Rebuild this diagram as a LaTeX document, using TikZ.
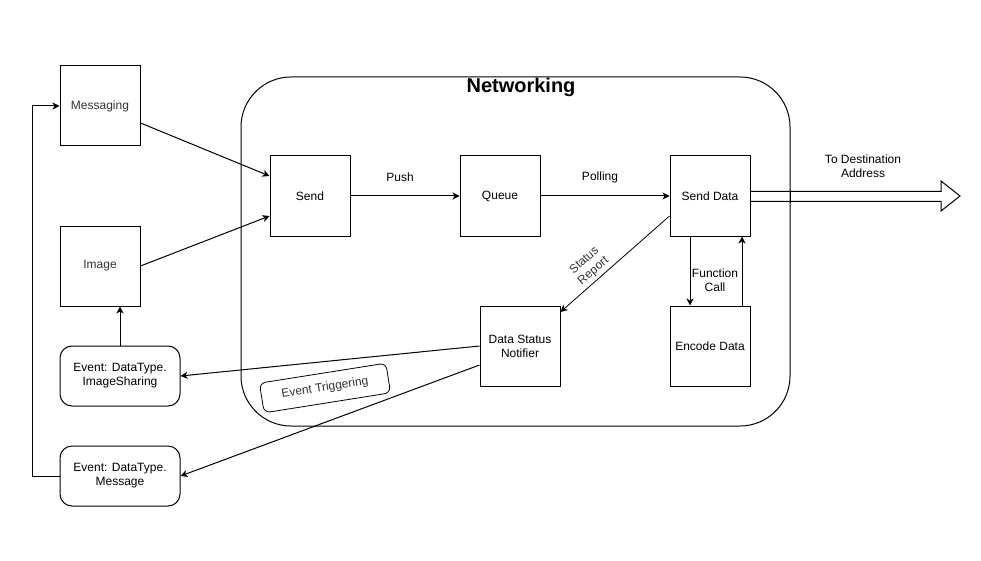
\documentclass[tikz,border=0pt]{standalone}
\usepackage{fontspec}
\setmainfont{Liberation Sans}
\usetikzlibrary{arrows.meta}
\definecolor{txtgray}{HTML}{333333}
\tikzset{
  box/.style={draw, line width=1pt, minimum width=80pt, minimum height=80pt, inner sep=0pt, align=center, font=\fontsize{12}{14}\selectfont},
  evbox/.style={draw, line width=1pt, rounded corners=12pt, minimum width=120pt, minimum height=60pt, inner sep=0pt, align=center, font=\fontsize{12}{14}\selectfont},
  lbl/.style={align=center, font=\fontsize{12}{14}\selectfont, inner sep=0pt},
  conn/.style={line width=1pt, -{Stealth[length=7pt,width=7pt,inset=2pt]}},
  plain/.style={line width=1pt}
}
\begin{document}
\begin{tikzpicture}[x=1pt,y=-1pt]
\useasboundingbox (0,0) rectangle (981,561);
\fill[white] (0,0) rectangle (981,561);
% container
\draw[line width=1pt, rounded corners=50pt] (241,77) rectangle (790,426);
\node[font=\bfseries\fontsize{20}{24}\selectfont, inner sep=0pt] (title) at (521,87) {Networking};
% nodes
\node[box, text=txtgray] (msg) at (100,106) {Messaging};
\node[box, text=txtgray] (img) at (100,266) {Image};
\node[box] (send) at (310,196) {Send};
\node[box] (queue) at (500,196) {Queue};
\node[box] (sdata) at (710,196) {Send Data};
\node[box] (notif) at (520,346) {Data Status\\Notifier};
\node[box] (enc) at (710,346) {Encode Data};
\node[evbox] (evimg) at (120,376) {Event: DataType.\\ImageSharing};
\node[evbox] (evmsg) at (120,476) {Event: DataType.\\Message};
\node[draw, line width=0.8pt, rounded corners=6pt, minimum width=128pt, minimum height=30pt, rotate=9, text=txtgray, font=\fontsize{12}{14}\selectfont] (trig) at (325,388) {Event Triggering};
% connectors
\draw[conn] (msg.east |- 0,123) -- (send.west |- 0,176);
\draw[conn] (img.east) -- (send.west |- 0,216);
\draw[conn] (evimg.north) -- (evimg.north |- img.south);
\draw[conn] (evmsg.west) -- (32,476) -- (32,106) -- (msg.west);
\draw[conn] (send.east) -- (queue.west);
\draw[conn] (queue.east) -- (sdata.west);
\draw[conn, line width=0.8pt] (sdata.west |- 0,216) -- (notif.east |- 0,312);
\draw[conn] (sdata.south -| 690,0) -- (enc.north -| 690,0);
\draw[conn] (enc.north -| 742,0) -- (sdata.south -| 742,0);
\draw[conn] (notif.west) -- (evimg.east);
\draw[conn] (notif.west |- 0,365) -- (evmsg.east |- 0,476);
% labels
\node[lbl] (push) at (400,177) {Push};
\node[lbl] (poll) at (600,177) {Polling};
\node[lbl, rotate=41, text=txtgray] (stat) at (589,266) {Status\\Report};
\node[lbl] (fcall) at (715,280) {Function\\Call};
\node[lbl] (dest) at (863,166) {To Destination\\Address};
% big arrow
\draw[line width=1pt] (sdata.east |- 0,191.5) -- (941,191.5) -- (941,181) -- (960,196) coordinate (tip) -- (941,211) -- (941,201.5) -- (sdata.east |- 0,201.5);
\draw[line width=1pt] (790,190) -- (790,203);
\end{tikzpicture}
\end{document}
